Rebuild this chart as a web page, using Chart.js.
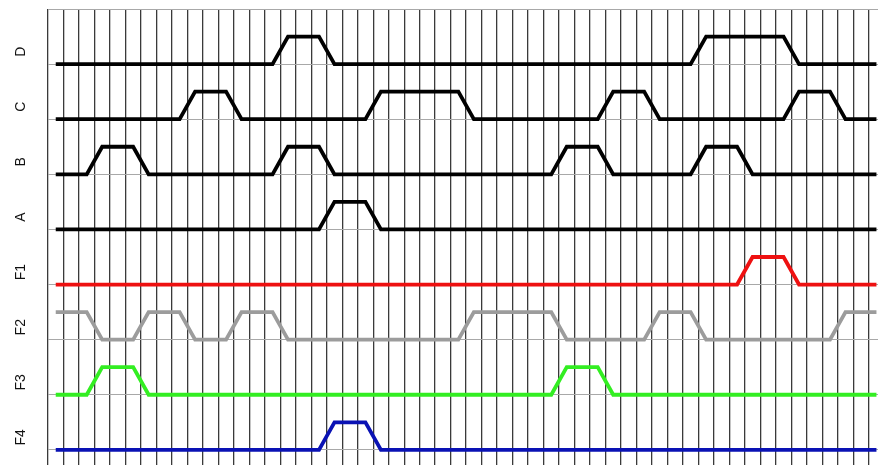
<!DOCTYPE html>
<html>
<head>
<meta charset="utf-8">
<script src="https://cdn.jsdelivr.net/npm/chart.js@4.4.1/dist/chart.umd.min.js"></script>
<style>
  html, body { margin: 0; padding: 0; background: #fff; }
  #wrap { width: 878px; height: 465px; }
</style>
</head>
<body>
<div id="wrap"><canvas id="grafico-sinais"></canvas></div>
<script>
// sinais do diagrama de tempo, de cima para baixo
const nomes = ['D', 'C', 'B', 'A', 'F1', 'F2', 'F3', 'F4'];
const bases = [14, 12, 10, 8, 6, 4, 2, 0];
const cores = ['#000000', '#000000', '#000000', '#000000', '#ee1111', '#9c9c9c', '#33ee22', '#0a12b4'];

// instantes de cada transição e o nível (0 = baixo, 1 = alto)
const dX = [0.5, 14.5, 15.5, 17.5, 18.5, 41.5, 42.5, 47.5, 48.5, 53.5];
const dNivel = [0, 0, 1, 1, 0, 0, 1, 1, 0, 0];
const cX = [0.5, 8.5, 9.5, 11.5, 12.5, 20.5, 21.5, 26.5, 27.5, 35.5, 36.5, 38.5, 39.5, 47.5, 48.5, 50.5, 51.5, 53.5];
const cNivel = [0, 0, 1, 1, 0, 0, 1, 1, 0, 0, 1, 1, 0, 0, 1, 1, 0, 0];
const bX = [0.5, 2.5, 3.5, 5.5, 6.5, 14.5, 15.5, 17.5, 18.5, 32.5, 33.5, 35.5, 36.5, 41.5, 42.5, 44.5, 45.5, 53.5];
const bNivel = [0, 0, 1, 1, 0, 0, 1, 1, 0, 0, 1, 1, 0, 0, 1, 1, 0, 0];
const aX = [0.5, 17.5, 18.5, 20.5, 21.5, 53.5];
const aNivel = [0, 0, 1, 1, 0, 0];
const f1X = [0.5, 44.5, 45.5, 47.5, 48.5, 53.5];
const f1Nivel = [0, 0, 1, 1, 0, 0];
const f2X = [0.5, 2.5, 3.5, 5.5, 6.5, 8.5, 9.5, 11.5, 12.5, 14.5, 15.5, 26.5, 27.5, 32.5, 33.5, 38.5, 39.5, 41.5, 42.5, 50.5, 51.5, 53.5];
const f2Nivel = [1, 1, 0, 0, 1, 1, 0, 0, 1, 1, 0, 0, 1, 1, 0, 0, 1, 1, 0, 0, 1, 1];
const f3X = [0.5, 2.5, 3.5, 5.5, 6.5, 32.5, 33.5, 35.5, 36.5, 53.5];
const f3Nivel = [0, 0, 1, 1, 0, 0, 1, 1, 0, 0];
const f4X = [0.5, 17.5, 18.5, 20.5, 21.5, 53.5];
const f4Nivel = [0, 0, 1, 1, 0, 0];

const tempos = [dX, cX, bX, aX, f1X, f2X, f3X, f4X];
const niveis = [dNivel, cNivel, bNivel, aNivel, f1Nivel, f2Nivel, f3Nivel, f4Nivel];

const datasets = nomes.map((nome, i) => ({
    label: nome,
    data: tempos[i].map((x, j) => ({ x: x, y: bases[i] + niveis[i][j] })),
    borderColor: cores[i],
    borderWidth: 3.8,
    pointRadius: 0,
    tension: 0,
    fill: false
}));

// nomes dos sinais, girados, ao lado de cada faixa
const rotulosSinais = {
    id: 'rotulosSinais',
    afterDraw(chart) {
        const ctx = chart.ctx;
        const y = chart.scales.y;
        ctx.save();
        ctx.fillStyle = '#111';
        ctx.font = '14px "Liberation Sans", Arial, sans-serif';
        ctx.textAlign = 'center';
        ctx.textBaseline = 'middle';
        nomes.forEach((nome, i) => {
            ctx.save();
            ctx.translate(21, y.getPixelForValue(bases[i] + 0.45));
            ctx.rotate(-Math.PI / 2);
            ctx.fillText(nome, 0, 0);
            ctx.restore();
        });
        ctx.restore();
    }
};

const ctxSinais = document.getElementById('grafico-sinais').getContext('2d');
const graficoSinais = new Chart(ctxSinais, {
    type: 'line',
    data: { datasets: datasets },
    options: {
        responsive: true,
        maintainAspectRatio: false,
        animation: false,
        layout: { padding: { top: 9, left: 0, right: 0, bottom: 0 } },
        plugins: {
            legend: { display: false },
            tooltip: { enabled: false }
        },
        scales: {
            x: {
                type: 'linear',
                min: 0,
                max: 53.6,
                ticks: { display: false, stepSize: 1, includeBounds: false },
                grid: { color: '#3a3a3a', lineWidth: 1.3, drawTicks: false },
                border: { display: false },
                afterFit(scale) { scale.height = 0; }
            },
            y: {
                min: -0.55,
                max: 16,
                ticks: { display: false, stepSize: 2, includeBounds: false },
                grid: { color: '#a8a8a8', lineWidth: 1, drawTicks: false },
                border: { display: false },
                afterFit(scale) { scale.width = 48; }
            }
        }
    },
    plugins: [rotulosSinais]
});
</script>
</body>
</html>
